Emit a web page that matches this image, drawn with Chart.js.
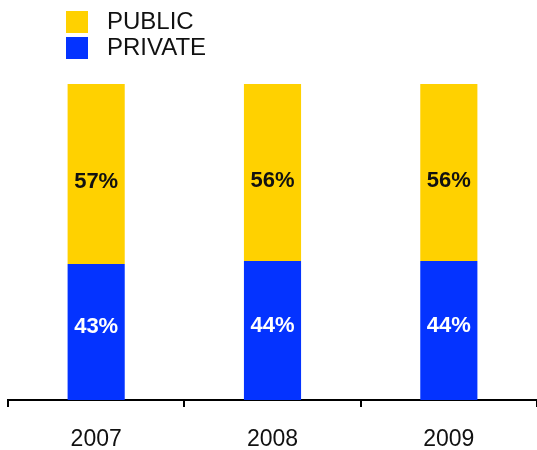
<!DOCTYPE html>
<html lang="en">
<head>
    <meta charset="UTF-8">
    <script src="https://cdn.jsdelivr.net/npm/chart.js"></script>
    <title>Public / Private</title>
    <style>
        html, body { margin: 0; padding: 0; background: #fff; }
        #wrap { width: 537px; height: 450px; }
    </style>
</head>
<body>
    <div id="wrap"><canvas id="shareChart"></canvas></div>
<script>
    var years = ['2007', '2008', '2009'];
    var privateShare = [43, 44, 44];
    var publicShare = [57, 56, 56];

    var yellow = '#FFD100';
    var blue = '#0433FF';
    var fontFamily = '"Liberation Sans", Arial, sans-serif';

    // legend drawn as a vertical list in the top-left corner
    var stackedLegend = {
        id: 'stackedLegend',
        afterDraw: function(chart) {
            var ctx = chart.ctx;
            var order = [1, 0]; // PUBLIC first, then PRIVATE
            ctx.save();
            ctx.font = '24px ' + fontFamily;
            ctx.textBaseline = 'middle';
            ctx.textAlign = 'left';
            for (var i = 0; i < order.length; i++) {
                var ds = chart.data.datasets[order[i]];
                var y = 11 + i * 26;
                ctx.fillStyle = ds.backgroundColor;
                ctx.fillRect(66, y, 22, 22);
                ctx.fillStyle = '#111';
                ctx.fillText(ds.label, 107, y + 11);
            }
            ctx.restore();
        }
    };

    // percentage labels inside each segment
    var segmentLabels = {
        id: 'segmentLabels',
        afterDatasetsDraw: function(chart) {
            var ctx = chart.ctx;
            ctx.save();
            ctx.font = 'bold 22px ' + fontFamily;
            ctx.textAlign = 'center';
            ctx.textBaseline = 'middle';
            chart.data.datasets.forEach(function(ds, di) {
                var meta = chart.getDatasetMeta(di);
                meta.data.forEach(function(bar, i) {
                    var mid = (bar.y + bar.base) / 2;
                    ctx.fillStyle = di === 0 ? '#fff' : '#111';
                    ctx.fillText(ds.data[i] + '%', bar.x, mid + (di === 0 ? -5 : 8));
                });
            });
            ctx.restore();
        }
    };

    new Chart(document.getElementById('shareChart'), {
        type: 'bar',
        data: {
            labels: years,
            datasets: [
                { label: 'PRIVATE', data: privateShare, backgroundColor: blue },
                { label: 'PUBLIC', data: publicShare, backgroundColor: yellow }
            ]
        },
        options: {
            responsive: true,
            maintainAspectRatio: false,
            animation: false,
            layout: { padding: { top: 84, left: 8, right: 0, bottom: 0 } },
            datasets: { bar: { categoryPercentage: 1, barPercentage: 0.324 } },
            plugins: { legend: { display: false }, tooltip: { enabled: false } },
            scales: {
                x: {
                    stacked: true,
                    offset: true,
                    afterFit: function(scale) { scale.height = 50; },
                    border: { color: '#000', width: 2 },
                    grid: { offset: true, drawOnChartArea: false, color: '#000', lineWidth: 2, tickLength: 7 },
                    ticks: { color: '#111', padding: 19, font: { size: 23, family: fontFamily } }
                },
                y: {
                    stacked: true,
                    display: false,
                    min: 0,
                    max: 100
                }
            }
        },
        plugins: [stackedLegend, segmentLabels]
    });
</script>
</body>
</html>
